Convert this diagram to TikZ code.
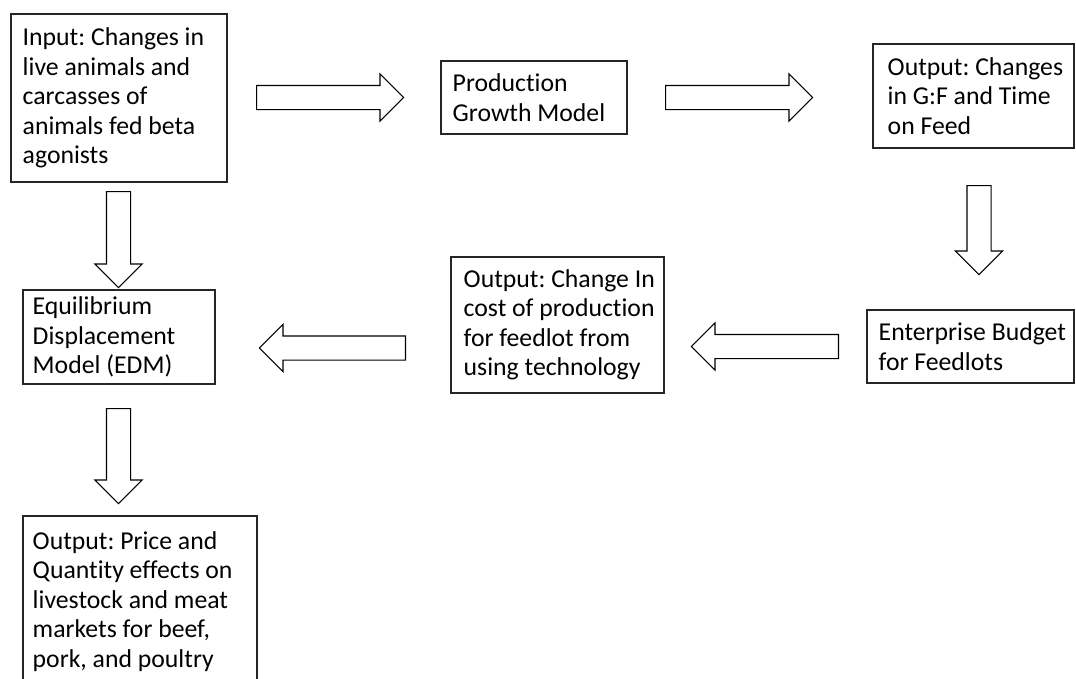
\documentclass[tikz,border=0pt]{standalone}
\usepackage{fontspec}
\setmainfont{Carlito}[Ligatures=NoCommon]
\frenchspacing
\usetikzlibrary{shapes.arrows,fit,calc}
\begin{document}
\begin{tikzpicture}[x=0.75pt,y=-0.75pt,
  box/.style={draw=black!85, line width=0.8pt, inner sep=0pt},
  txt/.style={anchor=west, align=left, inner sep=0pt, text=black,
    font=\fontsize{19.3pt}{22.1pt}\selectfont\frenchspacing},
  barrow/.style={single arrow, draw=black, line width=0.8pt, anchor=tail,
    inner sep=8.625pt, single arrow head extend=8.625pt,
    single arrow tip angle=90, single arrow head indent=0pt}]
\clip (0,0) rectangle (1076,679);
% boxes
\node[box, fit={(11,14) (227,182)}] (b1) {};
\node[box, fit={(441,61) (627,134)}] (b2) {};
\node[box, fit={(873,44) (1074,148)}] (b3) {};
\node[box, fit={(867,310) (1074,383)}] (b4) {};
\node[box, fit={(451,257) (664,393)}] (b5) {};
\node[box, fit={(23,290) (215,384)}] (b6) {};
\node[box, fit={(23,516) (257,687)}] (b7) {};
% texts
\node[txt] (t1) at ($(b1.west)+(12,0)$) {Input: Changes in\\live animals and\\carcasses of\\animals fed beta\\agonists};
\node[txt] (t2) at ($(b2.west)+(12,0)$) {Production\\Growth Model};
\node[txt] (t3) at ($(b3.west)+(15,0)$) {Output: Changes\\in G:F and Time\\on Feed};
\node[txt] (t4) at ($(b4.west)+(12,0)$) {Enterprise Budget\\for Feedlots};
\node[txt] (t5) at ($(b5.west)+(13,0)$) {Output: Change In\\cost of production\\for feedlot from\\using technology};
\node[txt] (t6) at ($(b6.west)+(10,0)$) {Equilibrium\\Displacement\\Model (EDM)};
\node[txt] (t7) at ($(b7.west)+(10,0)$) {Output: Price and\\Quantity effects on\\livestock and meat\\markets for beef,\\pork, and poultry};
% block arrows
\node[barrow, minimum height=110.25pt, shape border rotate=0] (a1) at (256,97.5) {};
\node[barrow, minimum height=110.25pt, shape border rotate=0] (a2) at (665,97.5) {};
\node[barrow, minimum height=66.75pt, shape border rotate=270] (a3) at (979,185) {};
\node[barrow, minimum height=110.25pt, shape border rotate=180] (a4) at (839,346.5) {};
\node[barrow, minimum height=109.5pt, shape border rotate=180] (a5) at (406,348) {};
\node[barrow, minimum height=72pt, shape border rotate=270] (a6) at (118.5,191) {};
\node[barrow, minimum height=71.25pt, shape border rotate=270] (a7) at (118.5,408) {};
\end{tikzpicture}
\end{document}
